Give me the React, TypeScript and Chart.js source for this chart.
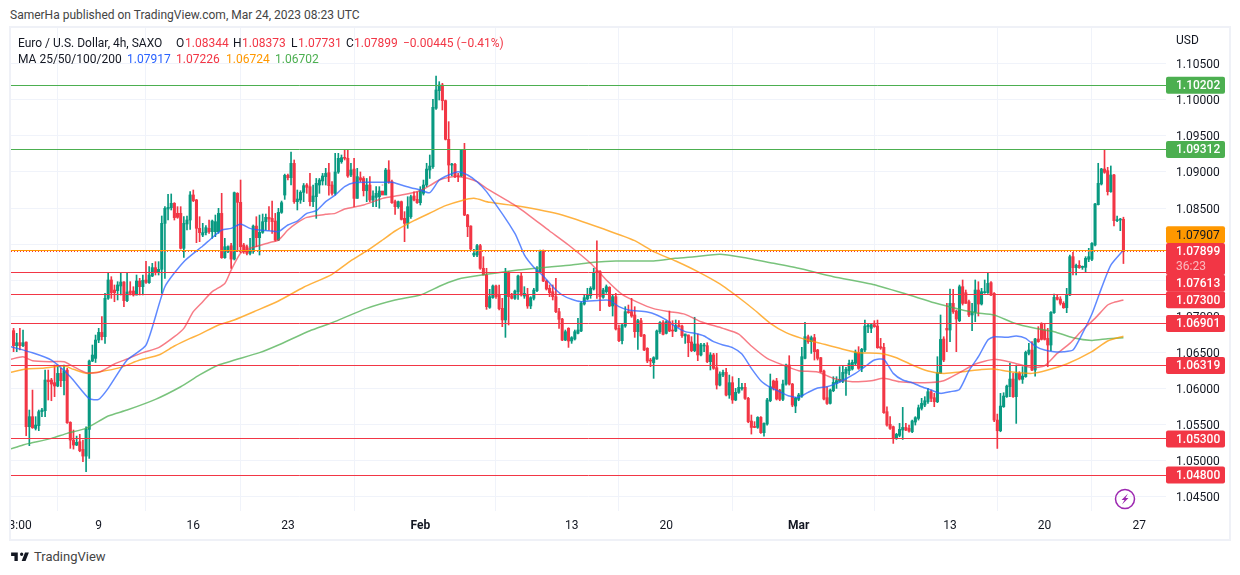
import React, { useEffect, useRef } from 'react';
import { Chart, registerables } from 'chart.js';

Chart.register(...registerables);

const FONT = 'Roboto, sans-serif';
const UP = '#089981';
const DOWN = '#f23645';

// 4h candles, oldest first. The first one sits 27 bars before Monday Jan 9.
const FIRST_BAR = -27;

const opens = [
  1.06801, 1.06593, 1.06634, 1.06593, 1.06643, 1.0547, 1.05609, 1.05447, 1.05484, 1.05678,
  1.05692, 1.06117, 1.06117, 1.0608, 1.06034, 1.06209, 1.06108, 1.06255, 1.0553, 1.05285,
  1.05216, 1.05262, 1.05156, 1.05063, 1.05433, 1.0638, 1.06417, 1.06671, 1.06777, 1.06717,
  1.07249, 1.07503, 1.07364, 1.07355, 1.0742, 1.07475, 1.07216, 1.0735, 1.0735, 1.07295,
  1.07489, 1.0741, 1.07503, 1.07466, 1.07558, 1.07674, 1.07609, 1.07651, 1.08288, 1.08487,
  1.08505, 1.08565, 1.08427, 1.08427, 1.07942, 1.08279, 1.08334, 1.08681, 1.08612, 1.08219,
  1.08126, 1.08159, 1.08219, 1.08172, 1.08172, 1.08172, 1.08426, 1.07812, 1.07895, 1.07978,
  1.07793, 1.08704, 1.08579, 1.07987, 1.07964, 1.07872, 1.07918, 1.0825, 1.08089, 1.08163,
  1.08311, 1.08371, 1.08357, 1.0832, 1.08057, 1.0844, 1.0868, 1.08953, 1.08921, 1.09119,
  1.08588, 1.08611, 1.08717, 1.08819, 1.08796, 1.08588, 1.08657, 1.08819, 1.08875, 1.08935,
  1.0899, 1.08819, 1.08704, 1.08999, 1.09142, 1.09198, 1.09189, 1.08958, 1.0904, 1.08634,
  1.0892, 1.0891, 1.0874, 1.08819, 1.08611, 1.08648, 1.08657, 1.08736, 1.0868, 1.09027,
  1.08865, 1.08588, 1.08519, 1.08588, 1.08357, 1.08288, 1.0838, 1.08667, 1.0862, 1.08574,
  1.08704, 1.08819, 1.09027, 1.09073, 1.09882, 1.10127, 1.10205, 1.09988, 1.09452, 1.09096,
  1.09106, 1.08949, 1.08944, 1.09313, 1.08403, 1.0825, 1.07849, 1.07849, 1.07979, 1.07665,
  1.07572, 1.07124, 1.07258, 1.0742, 1.07295, 1.0711, 1.06949, 1.07609, 1.07286, 1.07249,
  1.07341, 1.07558, 1.0728, 1.07304, 1.07143, 1.07249, 1.07355, 1.07619, 1.0791, 1.07489,
  1.07388, 1.07341, 1.07272, 1.07064, 1.06962, 1.06671, 1.06833, 1.06658, 1.06685, 1.06764,
  1.06796, 1.0717, 1.0724, 1.07286, 1.07378, 1.07632, 1.07619, 1.07263, 1.07341, 1.07401,
  1.07143, 1.07272, 1.06833, 1.06662, 1.06865, 1.07064, 1.07064, 1.07018, 1.06787, 1.06939,
  1.06741, 1.06556, 1.06394, 1.06357, 1.06408, 1.06787, 1.06912, 1.06764, 1.06925, 1.0681,
  1.06796, 1.06879, 1.06865, 1.06727, 1.06741, 1.06644, 1.06524, 1.06616, 1.06464, 1.06588,
  1.06593, 1.06371, 1.06464, 1.06288, 1.06047, 1.06186, 1.06223, 1.05909, 1.0608, 1.0584,
  1.05946, 1.05997, 1.06015, 1.05863, 1.05549, 1.0547, 1.0546, 1.05599, 1.05387, 1.05507,
  1.0583, 1.06103, 1.06103, 1.05978, 1.05849, 1.06061, 1.06325, 1.06061, 1.05756, 1.05849,
  1.05895, 1.06417, 1.06717, 1.06648, 1.06704, 1.06533, 1.06426, 1.06241, 1.05872, 1.05793,
  1.05969, 1.0607, 1.06098, 1.06098, 1.06209, 1.06246, 1.06269, 1.06348, 1.06496, 1.06279,
  1.06533, 1.06856, 1.06833, 1.06884, 1.06865, 1.06579, 1.0657, 1.05678, 1.05502, 1.0547,
  1.05308, 1.0535, 1.05424, 1.0546, 1.05447, 1.054, 1.05535, 1.05585, 1.05724, 1.0577,
  1.05816, 1.05955, 1.05872, 1.05816, 1.06209, 1.06685, 1.06833, 1.0681, 1.07179, 1.07073,
  1.06939, 1.0741, 1.07327, 1.07202, 1.07018, 1.07054, 1.07364, 1.0717, 1.07327, 1.07327,
  1.07466, 1.07318, 1.05562, 1.05414, 1.05747, 1.05886, 1.06024, 1.0613, 1.05886, 1.06209,
  1.06126, 1.06163, 1.06486, 1.06532, 1.06255, 1.06685, 1.06902, 1.0681, 1.06694, 1.06602,
  1.0705, 1.07262, 1.07239, 1.07179, 1.07119, 1.07295, 1.07826, 1.07674, 1.07706, 1.07678,
  1.07678, 1.0779, 1.0779, 1.07988, 1.08547, 1.08833, 1.09041, 1.09018, 1.08727, 1.08958,
  1.08325, 1.08334, 1.08344,
];

const highs = [
  1.06833, 1.06764, 1.06833, 1.0681, 1.06645, 1.05701, 1.05978, 1.05609, 1.05701, 1.05724,
  1.06255, 1.06255, 1.0614, 1.06325, 1.06325, 1.06279, 1.06325, 1.06279, 1.05539, 1.05424,
  1.0534, 1.05364, 1.05285, 1.0547, 1.06394, 1.06602, 1.0674, 1.06833, 1.06995, 1.07318,
  1.07604, 1.07549, 1.07434, 1.0748, 1.07595, 1.0748, 1.07595, 1.0748, 1.0741, 1.07572,
  1.07526, 1.07572, 1.07762, 1.07688, 1.07734, 1.07757, 1.07757, 1.0839, 1.08519, 1.0869,
  1.08695, 1.08575, 1.08519, 1.08519, 1.0838, 1.0839, 1.08727, 1.0875, 1.0862, 1.0838,
  1.08288, 1.08256, 1.08334, 1.08334, 1.08403, 1.08496, 1.08704, 1.0808, 1.07978, 1.0801,
  1.08722, 1.08713, 1.08888, 1.0801, 1.07987, 1.0808, 1.08265, 1.0838, 1.08403, 1.08417,
  1.08417, 1.08519, 1.08597, 1.08426, 1.08496, 1.08597, 1.0897, 1.08972, 1.09276, 1.09166,
  1.0875, 1.0874, 1.0884, 1.0884, 1.0898, 1.08819, 1.0891, 1.0891, 1.0898, 1.0905,
  1.0912, 1.08865, 1.09258, 1.09258, 1.09235, 1.09304, 1.09304, 1.0912, 1.09189, 1.0905,
  1.09, 1.08935, 1.0891, 1.08935, 1.0874, 1.08796, 1.08796, 1.08819, 1.0905, 1.09156,
  1.08888, 1.08611, 1.08597, 1.08597, 1.0845, 1.08657, 1.0868, 1.08726, 1.08726, 1.08796,
  1.08888, 1.0912, 1.09235, 1.10006, 1.1033, 1.10251, 1.10228, 1.09997, 1.09697, 1.0912,
  1.0912, 1.0898, 1.09313, 1.09397, 1.08413, 1.08255, 1.07928, 1.07997, 1.07997, 1.07826,
  1.07665, 1.07374, 1.07434, 1.07434, 1.07434, 1.07249, 1.07665, 1.07619, 1.07318, 1.07364,
  1.07572, 1.07595, 1.0741, 1.07388, 1.07272, 1.07388, 1.07688, 1.07919, 1.07919, 1.07503,
  1.07434, 1.07434, 1.07526, 1.0711, 1.06972, 1.0681, 1.06842, 1.06718, 1.0681, 1.06972,
  1.07203, 1.07295, 1.07388, 1.0741, 1.07665, 1.08044, 1.07632, 1.07388, 1.07434, 1.0741,
  1.07295, 1.07318, 1.06879, 1.06902, 1.07133, 1.07156, 1.07249, 1.07133, 1.06958, 1.06972,
  1.0675, 1.06565, 1.06417, 1.0644, 1.0681, 1.06925, 1.06939, 1.06939, 1.07073, 1.06939,
  1.06949, 1.06939, 1.06879, 1.06755, 1.06741, 1.06718, 1.06986, 1.06755, 1.06625, 1.06625,
  1.06634, 1.06496, 1.06487, 1.06486, 1.06232, 1.06255, 1.06279, 1.06186, 1.06163, 1.06001,
  1.0614, 1.0607, 1.0607, 1.05877, 1.05632, 1.0554, 1.05609, 1.05609, 1.05525, 1.05863,
  1.062, 1.06117, 1.0614, 1.05987, 1.06117, 1.06339, 1.06454, 1.0607, 1.05877, 1.05932,
  1.0657, 1.06916, 1.0674, 1.06727, 1.0675, 1.06542, 1.06431, 1.06255, 1.06024, 1.05992,
  1.06163, 1.06163, 1.06302, 1.06311, 1.06292, 1.06394, 1.06394, 1.06533, 1.06579, 1.06556,
  1.06948, 1.06893, 1.06893, 1.06939, 1.06948, 1.06694, 1.06625, 1.05747, 1.05609, 1.05479,
  1.05378, 1.05516, 1.05738, 1.05516, 1.05493, 1.05562, 1.05609, 1.0577, 1.05863, 1.05886,
  1.06001, 1.05978, 1.05932, 1.0644, 1.07018, 1.06717, 1.07179, 1.07378, 1.07373, 1.07087,
  1.07433, 1.07503, 1.07364, 1.07225, 1.07179, 1.07503, 1.07479, 1.07387, 1.07503, 1.07609,
  1.0748, 1.07327, 1.05645, 1.05932, 1.05941, 1.06047, 1.06348, 1.06209, 1.06325, 1.06232,
  1.06302, 1.06518, 1.06625, 1.06648, 1.06694, 1.06856, 1.06911, 1.06902, 1.06833, 1.07064,
  1.07309, 1.07295, 1.07272, 1.07202, 1.07387, 1.07849, 1.07886, 1.07724, 1.07771, 1.07697,
  1.07826, 1.07942, 1.0802, 1.08565, 1.0912, 1.0905, 1.09304, 1.09064, 1.09083, 1.08967,
  1.0839, 1.08357, 1.08373,
];

const lows = [
  1.0651, 1.0651, 1.06533, 1.0658, 1.05345, 1.05207, 1.05447, 1.05424, 1.05415, 1.05609,
  1.05609, 1.0584, 1.0583, 1.05886, 1.06024, 1.06024, 1.05909, 1.05516, 1.0517, 1.0516,
  1.05207, 1.05123, 1.04985, 1.04846, 1.05031, 1.06371, 1.0636, 1.06634, 1.06671, 1.06625,
  1.07235, 1.07249, 1.07202, 1.07226, 1.07295, 1.07133, 1.07202, 1.07295, 1.0728, 1.07295,
  1.07295, 1.07295, 1.07457, 1.07457, 1.07549, 1.07572, 1.07572, 1.07318, 1.07526, 1.08334,
  1.08473, 1.08334, 1.08358, 1.07932, 1.07817, 1.08196, 1.08205, 1.08589, 1.0802, 1.08034,
  1.08103, 1.08126, 1.0815, 1.0808, 1.08103, 1.08149, 1.07803, 1.07803, 1.0788, 1.07664,
  1.0778, 1.07895, 1.0788, 1.07872, 1.07849, 1.07849, 1.07872, 1.07964, 1.07849, 1.08149,
  1.08195, 1.08195, 1.08149, 1.08043, 1.08048, 1.08426, 1.0862, 1.08888, 1.08819, 1.08565,
  1.08473, 1.08565, 1.08588, 1.08704, 1.08528, 1.08519, 1.08357, 1.08704, 1.08819, 1.08819,
  1.0868, 1.0868, 1.0868, 1.0898, 1.0912, 1.09166, 1.08925, 1.08935, 1.08519, 1.08634,
  1.08865, 1.08667, 1.08588, 1.08588, 1.08519, 1.08519, 1.08497, 1.08819, 1.0871, 1.08842,
  1.08565, 1.08413, 1.08496, 1.08334, 1.08034, 1.08219, 1.08357, 1.08597, 1.08565, 1.08542,
  1.0868, 1.08796, 1.0891, 1.0905, 1.09868, 1.09997, 1.09859, 1.09443, 1.08865, 1.08944,
  1.0892, 1.08865, 1.08935, 1.08394, 1.08103, 1.07918, 1.07826, 1.07826, 1.07651, 1.07572,
  1.07096, 1.0711, 1.07249, 1.07249, 1.07087, 1.06856, 1.06708, 1.0688, 1.0724, 1.07235,
  1.07235, 1.0728, 1.07249, 1.0711, 1.07106, 1.07226, 1.07341, 1.07609, 1.0748, 1.07364,
  1.07272, 1.07226, 1.0705, 1.06833, 1.06662, 1.06662, 1.06569, 1.06625, 1.06671, 1.06755,
  1.06787, 1.07156, 1.07226, 1.07249, 1.07364, 1.07249, 1.07078, 1.07249, 1.07318, 1.07133,
  1.07004, 1.0681, 1.06648, 1.06616, 1.06847, 1.07041, 1.06986, 1.06708, 1.06542, 1.06718,
  1.06524, 1.06357, 1.06302, 1.0614, 1.06403, 1.06764, 1.06741, 1.06755, 1.06787, 1.06718,
  1.06787, 1.06847, 1.06708, 1.06625, 1.0644, 1.0651, 1.0651, 1.06385, 1.0645, 1.0651,
  1.06357, 1.06256, 1.06265, 1.05992, 1.06034, 1.06163, 1.05895, 1.05863, 1.05793, 1.0583,
  1.05932, 1.05978, 1.05849, 1.05525, 1.05368, 1.05456, 1.05447, 1.05378, 1.0534, 1.05493,
  1.05816, 1.05978, 1.0584, 1.0583, 1.0583, 1.06047, 1.06047, 1.05747, 1.05664, 1.0583,
  1.05877, 1.06408, 1.06625, 1.06486, 1.06394, 1.06394, 1.06223, 1.0584, 1.0578, 1.05784,
  1.05955, 1.06001, 1.06089, 1.0608, 1.05904, 1.06186, 1.06255, 1.06325, 1.06265, 1.06232,
  1.0651, 1.06773, 1.06773, 1.06847, 1.06556, 1.06542, 1.05655, 1.05479, 1.05433, 1.05239,
  1.05294, 1.05331, 1.05294, 1.05415, 1.05396, 1.05387, 1.05493, 1.05562, 1.05701, 1.05747,
  1.05793, 1.05816, 1.05747, 1.05803, 1.06209, 1.06371, 1.0651, 1.06648, 1.0704, 1.0651,
  1.06925, 1.07156, 1.07179, 1.06994, 1.068, 1.06925, 1.07004, 1.07156, 1.07318, 1.07318,
  1.07285, 1.05539, 1.05169, 1.054, 1.05738, 1.05876, 1.05886, 1.05876, 1.05516, 1.06117,
  1.0607, 1.06154, 1.06463, 1.06246, 1.06172, 1.06639, 1.06671, 1.06671, 1.06301, 1.06523,
  1.07041, 1.07225, 1.07156, 1.0711, 1.0705, 1.07285, 1.07572, 1.07572, 1.07664, 1.0765,
  1.07604, 1.07757, 1.0777, 1.07974, 1.08542, 1.08819, 1.08981, 1.0868, 1.08718, 1.08251,
  1.08311, 1.08186, 1.07731,
];

const closes = [
  1.06593, 1.06634, 1.06593, 1.06634, 1.0547, 1.05609, 1.05456, 1.05493, 1.05678, 1.05701,
  1.06117, 1.06094, 1.06061, 1.06034, 1.06209, 1.06108, 1.06246, 1.05525, 1.05285, 1.05216,
  1.05253, 1.05137, 1.05063, 1.05438, 1.0638, 1.06463, 1.06671, 1.06777, 1.06717, 1.07249,
  1.07503, 1.07327, 1.07327, 1.07434, 1.07475, 1.07216, 1.07336, 1.07318, 1.07295, 1.07489,
  1.0741, 1.07498, 1.0747, 1.07572, 1.07674, 1.07609, 1.07651, 1.08288, 1.08496, 1.0851,
  1.08565, 1.08367, 1.08371, 1.07942, 1.08288, 1.08334, 1.08681, 1.08602, 1.08219, 1.08159,
  1.08159, 1.08228, 1.08173, 1.0832, 1.08311, 1.08426, 1.07812, 1.07964, 1.07964, 1.07793,
  1.08713, 1.08579, 1.07964, 1.07895, 1.07872, 1.07918, 1.0825, 1.08089, 1.08163, 1.08311,
  1.08371, 1.08348, 1.08311, 1.08057, 1.0844, 1.08574, 1.08953, 1.08921, 1.09119, 1.08588,
  1.08625, 1.08717, 1.0881, 1.08787, 1.08588, 1.08667, 1.08842, 1.08888, 1.08944, 1.0898,
  1.0881, 1.08704, 1.08999, 1.09189, 1.09198, 1.09189, 1.08944, 1.09027, 1.08634, 1.08935,
  1.08888, 1.0874, 1.08819, 1.08611, 1.08667, 1.08704, 1.08736, 1.0868, 1.09027, 1.08865,
  1.08574, 1.08519, 1.08588, 1.08343, 1.08288, 1.08519, 1.08657, 1.08611, 1.08574, 1.0875,
  1.08819, 1.0904, 1.09082, 1.09896, 1.10136, 1.10205, 1.09988, 1.09452, 1.09096, 1.09106,
  1.08935, 1.08935, 1.09313, 1.08403, 1.08242, 1.07932, 1.07872, 1.07979, 1.07665, 1.07572,
  1.07133, 1.07272, 1.0742, 1.07272, 1.07106, 1.06949, 1.07609, 1.07272, 1.07249, 1.0735,
  1.07558, 1.07295, 1.07318, 1.07143, 1.07258, 1.07364, 1.07642, 1.0791, 1.07489, 1.07378,
  1.07327, 1.07272, 1.07064, 1.06958, 1.06671, 1.06787, 1.06658, 1.06704, 1.06787, 1.0681,
  1.0718, 1.07258, 1.07295, 1.07388, 1.07609, 1.07609, 1.07272, 1.07364, 1.0741, 1.07143,
  1.07272, 1.06824, 1.06662, 1.06879, 1.07064, 1.0705, 1.07004, 1.06787, 1.06939, 1.06727,
  1.06533, 1.0638, 1.0638, 1.06427, 1.06796, 1.06912, 1.0675, 1.06925, 1.06796, 1.06796,
  1.0687, 1.06856, 1.06732, 1.06755, 1.06634, 1.06524, 1.06616, 1.06464, 1.06602, 1.06602,
  1.06371, 1.06464, 1.06279, 1.06047, 1.062, 1.06223, 1.05909, 1.0608, 1.0584, 1.05946,
  1.06015, 1.06015, 1.05863, 1.05539, 1.0546, 1.0546, 1.05599, 1.05387, 1.05516, 1.0584,
  1.06024, 1.06001, 1.05854, 1.05849, 1.06061, 1.06325, 1.06061, 1.0577, 1.05863, 1.05909,
  1.0644, 1.06717, 1.06648, 1.06704, 1.0651, 1.06417, 1.06232, 1.05853, 1.05793, 1.05978,
  1.06084, 1.06108, 1.06126, 1.06223, 1.06265, 1.06348, 1.06362, 1.06496, 1.06279, 1.06542,
  1.06865, 1.06874, 1.06884, 1.06856, 1.06565, 1.0656, 1.05664, 1.05493, 1.05447, 1.05308,
  1.05364, 1.05433, 1.0546, 1.05424, 1.0541, 1.05549, 1.05595, 1.05733, 1.05793, 1.0583,
  1.05955, 1.05863, 1.05816, 1.06218, 1.0668, 1.06394, 1.0681, 1.07179, 1.07064, 1.06962,
  1.0741, 1.07179, 1.07179, 1.07018, 1.07064, 1.07364, 1.0717, 1.07341, 1.07341, 1.07456,
  1.07295, 1.05562, 1.05414, 1.05756, 1.05895, 1.06033, 1.0613, 1.05886, 1.06209, 1.0613,
  1.06172, 1.065, 1.06532, 1.06255, 1.06685, 1.06648, 1.0668, 1.0668, 1.06602, 1.07054,
  1.07262, 1.07235, 1.07179, 1.07119, 1.07304, 1.07826, 1.07674, 1.07706, 1.07674, 1.07687,
  1.07803, 1.07826, 1.0801, 1.08556, 1.08842, 1.09041, 1.08995, 1.08727, 1.08958, 1.08325,
  1.08334, 1.08343, 1.07899,
];

// Moving averages, read at the bar numbers listed beside them (bar 0 = Jan 9 00:00)
const ma25Bars = [-28, -21, -15, -9, -3, 0, 3, 9, 15, 21, 27, 33, 36, 39, 42, 45, 48, 51, 54, 57, 60, 63, 66, 69, 72, 75, 78, 81, 87, 93, 96, 99, 102, 105, 108, 111, 114, 117, 120, 123, 132, 135, 138, 141, 144, 147, 150, 153, 159, 162, 165, 168, 174, 177, 180, 183, 186, 189, 192, 195, 198, 201, 204, 207, 210, 213, 216, 219, 222, 225, 228, 231, 234, 237, 240, 243, 246, 249, 252, 255, 258, 261, 264, 267, 270, 273, 276, 279, 282, 284, 288, 291, 294, 297, 300, 303, 306, 309, 312, 315, 318, 321, 325];
const ma25 = [1.06579, 1.06496, 1.06394, 1.06163, 1.05858, 1.05849, 1.06001, 1.06394, 1.066, 1.0741, 1.07757, 1.07974, 1.08089, 1.08195, 1.08218, 1.08279, 1.08218, 1.08195, 1.08186, 1.08172, 1.08265, 1.0832, 1.08426, 1.08463, 1.08588, 1.0868, 1.08796, 1.08851, 1.08856, 1.08856, 1.08819, 1.08782, 1.0875, 1.08713, 1.08888, 1.08958, 1.09004, 1.08958, 1.08865, 1.08727, 1.0815, 1.0785, 1.07679, 1.07558, 1.0741, 1.07295, 1.07235, 1.07203, 1.07221, 1.07221, 1.07133, 1.07087, 1.0706, 1.07018, 1.06949, 1.06856, 1.06787, 1.06764, 1.06727, 1.06648, 1.06602, 1.06565, 1.06477, 1.06279, 1.06108, 1.06015, 1.05955, 1.05895, 1.05877, 1.05946, 1.06006, 1.06024, 1.0607, 1.06135, 1.06209, 1.06302, 1.06394, 1.06403, 1.06209, 1.06117, 1.0608, 1.06024, 1.05978, 1.05932, 1.05955, 1.05987, 1.06246, 1.0644, 1.06671, 1.06717, 1.06708, 1.06726, 1.06694, 1.06588, 1.06532, 1.06509, 1.06509, 1.06532, 1.06763, 1.07031, 1.07387, 1.0771, 1.07917];

const ma50Bars = [-28, -24, -21, -15, -11, -8, -4, 0, 5, 9, 14, 19, 24, 27, 30, 33, 36, 40, 42, 45, 48, 54, 57, 60, 63, 66, 72, 75, 78, 84, 90, 96, 102, 105, 108, 111, 114, 117, 120, 123, 133, 143, 149, 156, 161, 166, 171, 176, 181, 186, 191, 198, 203, 207, 212, 217, 222, 228, 233, 239, 245, 249, 254, 262, 268, 273, 278, 284, 290, 296, 300, 304, 308, 312, 316, 320, 322, 325];
const ma50 = [1.06403, 1.0644, 1.06385, 1.06371, 1.06371, 1.06302, 1.06218, 1.06223, 1.06339, 1.06408, 1.06496, 1.06565, 1.06717, 1.06833, 1.07064, 1.07202, 1.07341, 1.07456, 1.07641, 1.07872, 1.07941, 1.0802, 1.08057, 1.08195, 1.08297, 1.08371, 1.08413, 1.08426, 1.08486, 1.08542, 1.08634, 1.0868, 1.0874, 1.0881, 1.08888, 1.08925, 1.08935, 1.08912, 1.08865, 1.08773, 1.0851, 1.08182, 1.07988, 1.07734, 1.07503, 1.07304, 1.07193, 1.07106, 1.07064, 1.07027, 1.06925, 1.06833, 1.06754, 1.06588, 1.06417, 1.06325, 1.06246, 1.06228, 1.0614, 1.06094, 1.06108, 1.0614, 1.06094, 1.0608, 1.06108, 1.0622, 1.06338, 1.06403, 1.06357, 1.06288, 1.06315, 1.06486, 1.06625, 1.0681, 1.06971, 1.07156, 1.07193, 1.07226];

const ma100Bars = [-28, -23, -18, -11, -8, -4, 0, 7, 13, 19, 24, 29, 32, 38, 43, 50, 57, 65, 74, 80, 85, 90, 94, 100, 106, 110, 115, 119, 124, 133, 147, 161, 170, 176, 183, 190, 197, 204, 208, 213, 218, 223, 229, 235, 241, 248, 253, 258, 263, 268, 274, 280, 284, 289, 296, 301, 307, 315, 320, 325];
const ma100 = [1.06223, 1.0627, 1.06279, 1.0631, 1.06265, 1.06209, 1.06228, 1.06292, 1.06394, 1.06463, 1.06588, 1.06694, 1.0675, 1.06879, 1.06949, 1.07078, 1.07212, 1.07402, 1.07582, 1.0777, 1.07905, 1.08057, 1.08182, 1.08325, 1.0845, 1.08533, 1.08602, 1.08634, 1.08579, 1.08528, 1.08404, 1.08196, 1.08048, 1.07896, 1.07766, 1.07619, 1.07448, 1.07226, 1.07087, 1.06902, 1.06773, 1.06694, 1.06625, 1.06556, 1.06496, 1.06486, 1.06426, 1.06325, 1.06242, 1.06209, 1.06232, 1.06264, 1.06269, 1.06232, 1.06209, 1.06255, 1.06338, 1.0651, 1.06657, 1.06724];

const ma200Bars = [-28, -24, -22, -15, -10, -4, 3, 9, 18, 26, 32, 38, 51, 57, 67, 74, 85, 94, 102, 109, 115, 123, 133, 142, 150, 157, 164, 176, 183, 189, 197, 204, 213, 222, 233, 245, 256, 265, 273, 278, 284, 290, 297, 303, 309, 315, 320, 325];
const ma200 = [1.05161, 1.05216, 1.05239, 1.05308, 1.05378, 1.05447, 1.05618, 1.05701, 1.05849, 1.06024, 1.06187, 1.06325, 1.06496, 1.06602, 1.068, 1.06911, 1.0711, 1.07226, 1.07295, 1.07434, 1.07526, 1.07582, 1.07642, 1.07679, 1.0771, 1.07748, 1.07766, 1.07766, 1.07803, 1.07826, 1.07859, 1.07818, 1.07743, 1.07665, 1.07549, 1.07447, 1.07309, 1.07188, 1.07097, 1.0705, 1.07018, 1.06911, 1.06833, 1.06787, 1.06703, 1.06666, 1.06689, 1.06702];

// Drawn levels, with the price scale labels that go with them
const levelPrices = [1.10202, 1.09312, 1.07907, 1.07899, 1.07613, 1.073, 1.06901, 1.06319, 1.053, 1.048];
const levelKinds = ['up', 'up', 'alert', 'last', 'down', 'down', 'down', 'down', 'down', 'down'];
const countdown = '36:23';

const priceTicks = [1.045, 1.05, 1.055, 1.06, 1.065, 1.07, 1.075, 1.08, 1.085, 1.09, 1.095, 1.1, 1.105];
const timeTicks = [-26, 0, 30, 60, 102, 150, 180, 222, 270, 300, 330];
const timeLabels = ['13:00', '9', '16', '23', 'Feb', '13', '20', 'Mar', '13', '20', '27'];
const boldTimeLabels = ['Feb', 'Mar'];

const LEVEL_COLOR: Record<string, string> = { up: '#4caf50', down: DOWN, alert: '#ff9800', last: DOWN };
// the labels shove each other apart on the price scale, same as on the site
const BADGE_SHIFT: Record<number, number> = { 1.07907: -16, 1.07613: 11, 1.073: 5 };

const levelsPlugin = {
  id: 'levels',
  afterDatasetsDraw(chart: any) {
    const { ctx, chartArea, scales } = chart;
    ctx.save();
    levelPrices.forEach((price, k) => {
      const y = Math.floor(scales.y.getPixelForValue(price)) + 0.5;
      ctx.strokeStyle = LEVEL_COLOR[levelKinds[k]];
      ctx.lineWidth = 1;
      ctx.setLineDash(levelKinds[k] === 'last' ? [1, 2] : []);
      ctx.beginPath();
      ctx.moveTo(chartArea.left, y);
      ctx.lineTo(chartArea.right, y);
      ctx.stroke();
    });
    ctx.setLineDash([]);
    ctx.restore();
  },
  afterDraw(chart: any) {
    const { ctx, chartArea, scales } = chart;
    const left = chartArea.right;
    const w = 59;
    ctx.save();
    ctx.textBaseline = 'middle';
    ctx.textAlign = 'left';

    ctx.font = `12px ${FONT}`;
    ctx.fillStyle = '#131722';
    ctx.fillText('USD', left + 10, 13);

    levelPrices.forEach((price, k) => {
      const kind = levelKinds[k];
      const y = scales.y.getPixelForValue(price) + (BADGE_SHIFT[price] || 0);
      const h = kind === 'last' ? 32 : 17;
      const top = kind === 'last' ? y - 8.5 : y - h / 2;
      ctx.fillStyle = LEVEL_COLOR[kind];
      ctx.beginPath();
      ctx.roundRect(left, top, w, h, 2);
      ctx.fill();
      ctx.fillStyle = kind === 'alert' ? '#131722' : '#ffffff';
      ctx.font = `${kind === 'alert' ? 400 : 500} 12px ${FONT}`;
      ctx.fillText(price.toFixed(5), left + 10, y + 1);
      if (kind === 'last') {
        ctx.font = `12px ${FONT}`;
        ctx.fillStyle = 'rgba(255,255,255,0.65)';
        ctx.fillText(countdown, left + 10, y + 15.5);
      }
    });

    // purple lightning badge in the corner of the pane
    const cx = 1114;
    const cy = 471;
    ctx.strokeStyle = '#9c27b0';
    ctx.lineWidth = 1.5;
    ctx.beginPath();
    ctx.arc(cx, cy, 9.5, 0, Math.PI * 2);
    ctx.stroke();
    ctx.fillStyle = '#9c27b0';
    ctx.beginPath();
    ctx.moveTo(cx + 3, cy - 5.5);
    ctx.lineTo(cx - 3.5, cy + 1);
    ctx.lineTo(cx - 0.5, cy + 1);
    ctx.lineTo(cx - 3, cy + 5.5);
    ctx.lineTo(cx + 3.5, cy - 1);
    ctx.lineTo(cx + 0.5, cy - 1);
    ctx.closePath();
    ctx.fill();
    ctx.restore();
  },
};

const maLine = (bars: number[], values: number[], color: string, order: number) => ({
  type: 'line' as const,
  data: bars.map((x, k) => ({ x, y: values[k] })),
  borderColor: color,
  borderWidth: 1.5,
  pointRadius: 0,
  tension: 0.2,
  order,
});

// keep the first and last tick labels from pushing the pane inwards
const noLabelPadding = (axis: any) => {
  axis.paddingLeft = 0;
  axis.paddingRight = 0;
  axis.paddingTop = 0;
  axis.paddingBottom = 0;
};

const Candles: React.FC = () => {
  const canvasRef = useRef<HTMLCanvasElement>(null);

  useEffect(() => {
    const ctx = canvasRef.current?.getContext('2d');
    if (!ctx) return;

    const colors = opens.map((o, k) => (closes[k] >= o ? UP : DOWN));

    const chart = new Chart(ctx, {
      type: 'bar',
      plugins: [levelsPlugin],
      data: {
        datasets: [
          {
            data: opens.map((_, k) => ({ x: k + FIRST_BAR, y: [lows[k], highs[k]] })),
            backgroundColor: colors,
            barThickness: 1,
            grouped: false,
            order: 6,
          },
          {
            data: opens.map((o, k) => ({ x: k + FIRST_BAR, y: [o, closes[k]] })),
            backgroundColor: colors,
            barThickness: 2.4,
            minBarLength: 1,
            grouped: false,
            order: 5,
          },
          maLine(ma200Bars, ma200, 'rgba(76,175,80,0.75)', 4),
          maLine(ma100Bars, ma100, 'rgba(255,152,0,0.75)', 3),
          maLine(ma50Bars, ma50, 'rgba(242,54,69,0.65)', 2),
          maLine(ma25Bars, ma25, 'rgba(41,98,255,0.75)', 1),
        ] as any,
      },
      options: {
        responsive: false,
        animation: false,
        layout: { padding: 0 },
        plugins: { legend: { display: false }, tooltip: { enabled: false } },
        scales: {
          x: {
            type: 'linear',
            offset: false,
            bounds: 'data',
            min: -27.815,
            max: 338.5,
            grid: { color: '#f0f3fa', drawTicks: false },
            border: { display: false },
            afterBuildTicks: (axis: any) => {
              axis.ticks = timeTicks.map((value) => ({ value }));
            },
            afterFit: (axis: any) => {
              axis.height = 28;
              noLabelPadding(axis);
            },
            ticks: {
              autoSkip: false,
              maxRotation: 0,
              padding: 8,
              color: '#131722',
              font: (c: any) => ({
                family: FONT,
                size: 12,
                weight: boldTimeLabels.includes(timeLabels[timeTicks.indexOf(c.tick?.value)]) ? 'bold' : 'normal',
              }),
              callback: (value: any) => timeLabels[timeTicks.indexOf(value)],
            },
          },
          y: {
            type: 'linear',
            position: 'right',
            bounds: 'data',
            min: 1.04302,
            max: 1.109947,
            grid: { color: '#f0f3fa', drawTicks: false },
            border: { display: false },
            afterBuildTicks: (axis: any) => {
              axis.ticks = priceTicks.map((value) => ({ value }));
            },
            afterFit: (axis: any) => {
              axis.width = 63;
              noLabelPadding(axis);
            },
            ticks: {
              autoSkip: false,
              padding: 10,
              labelOffset: 1.5,
              crossAlign: 'near',
              color: '#131722',
              font: { family: FONT, size: 12 },
              callback: (value: any) => Number(value).toFixed(5),
            },
          },
        },
      },
    } as any);

    return () => {
      chart.destroy();
    };
  }, []);

  return (
    <canvas
      ref={canvasRef}
      width={1218}
      height={511}
      style={{ position: 'absolute', left: 11, top: 28, display: 'block' }}
    />
  );
};

const text: React.CSSProperties = {
  position: 'absolute',
  whiteSpace: 'pre',
  fontFamily: FONT,
  fontSize: 12,
  lineHeight: '16px',
  color: '#131722',
};

const Label: React.FC<{ x: number; y: number; color?: string; children: React.ReactNode }> = ({ x, y, color, children }) => (
  <span style={{ ...text, left: x, top: y - 7, color: color || '#131722' }}>{children}</span>
);

const App: React.FC = () => (
  <div style={{ position: 'fixed', left: 0, top: 0, width: 1240, height: 575, background: '#fff', overflow: 'hidden' }}>
    <div style={{ position: 'absolute', left: 9, top: 26, width: 1218, height: 511, border: '2px solid #eff1f7' }} />
    <Candles />
    <Label x={10} y={14} color="#444">SamerHa published on TradingView.com, Mar 24, 2023 08:23 UTC</Label>

    <Label x={18} y={42}>Euro / U.S. Dollar, 4h, SAXO</Label>
    <Label x={176} y={42}>O</Label>
    <Label x={185} y={42} color={DOWN}>1.08344</Label>
    <Label x={233} y={42}>H</Label>
    <Label x={242} y={42} color={DOWN}>1.08373</Label>
    <Label x={291} y={42}>L</Label>
    <Label x={298} y={42} color={DOWN}>1.07731</Label>
    <Label x={346} y={42}>C</Label>
    <Label x={354} y={42} color={DOWN}>1.07899</Label>
    <Label x={403} y={42} color={DOWN}>−0.00445 (−0.41%)</Label>

    <Label x={18} y={58}>MA 25/50/100/200</Label>
    <Label x={127} y={58} color="#2962ff">1.07917</Label>
    <Label x={176} y={58} color={DOWN}>1.07226</Label>
    <Label x={226} y={58} color="#ff9800">1.06724</Label>
    <Label x={275} y={58} color="#4caf50">1.06702</Label>

    <svg style={{ position: 'absolute', left: 10, top: 550 }} width="20" height="14" viewBox="0 6 36 16">
      <path fill="#131722" d="M14 6H2v6h6v9h6V6zm14 15h-7l6-15h7l-6 15zm-7-9a3 3 0 1 0 0-6 3 3 0 0 0 0 6z" />
    </svg>
    <span style={{ ...text, left: 34, top: 548, fontSize: 13, lineHeight: '18px', color: '#444' }}>TradingView</span>
  </div>
);

export default App;
